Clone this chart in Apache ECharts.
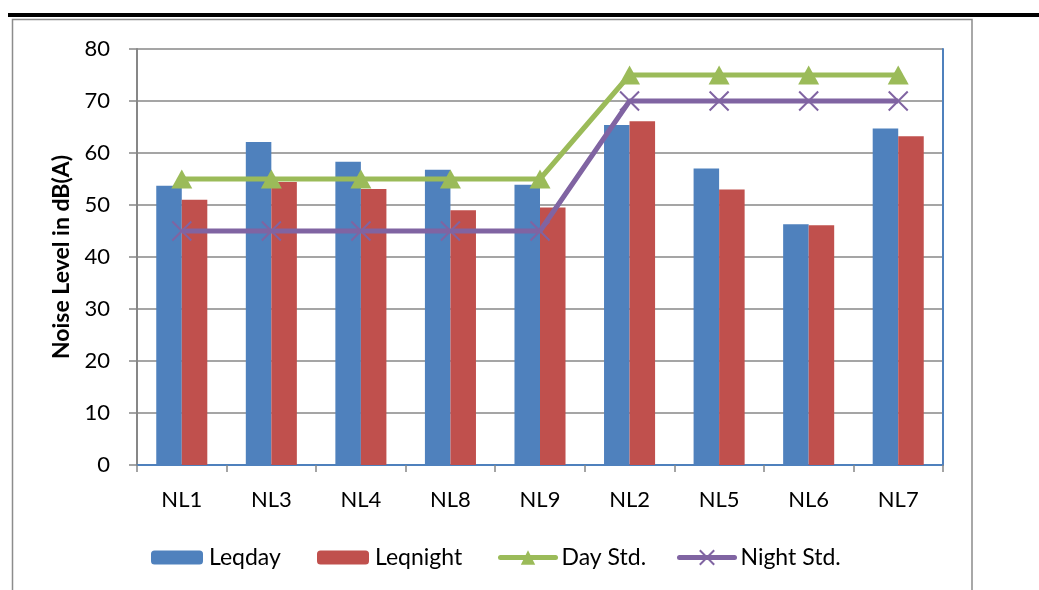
<!DOCTYPE html>
<html>
<head>
<meta charset="utf-8">
<script src="https://cdn.jsdelivr.net/npm/echarts@6/dist/echarts.min.js"></script>
<style>
html,body{margin:0;padding:0;background:#fff;}
#chart{width:1039px;height:590px;}
</style>
</head>
<body>
<div id="chart"></div>
<script>
const categories = ['NL1','NL3','NL4','NL8','NL9','NL2','NL5','NL6','NL7'];
const leqDay   = [53.7, 62.1, 58.3, 56.8, 53.9, 65.4, 57.0, 46.3, 64.7];
const leqNight = [51.0, 54.4, 53.1, 49.0, 49.5, 66.1, 53.0, 46.1, 63.2];
const dayStd   = [55, 55, 55, 55, 55, 75, 75, 75, 75];
const nightStd = [45, 45, 45, 45, 45, 70, 70, 70, 70];
const yTicks = [0, 10, 20, 30, 40, 50, 60, 70, 80];

const FONT = 'Lato';
const GRAY = '#878787';
const chart = echarts.init(document.getElementById('chart'), null, {renderer: 'canvas'});
const crossPath = 'path://M0,0L20,20M20,0L0,20';

function legendAt(left, name, w, h) {
  return {
    left: left, top: 546, padding: 0, itemWidth: w, itemHeight: h, itemGap: 0,
    data: [{name: name, lineStyle: {width: 5, cap: 'round'}}],
    textStyle: {fontFamily: FONT, fontSize: 23, color: '#000', padding: [0,0,0,1]},
    lineStyle: {width: 5, cap: 'round'},
    selectedMode: false
  };
}

chart.setOption({
  animation: false,
  backgroundColor: '#fff',
  graphic: [
    {type: 'rect', shape: {x: 8, y: 13, width: 1031, height: 4}, style: {fill: '#000'}, z: 100},
    {type: 'rect', shape: {x: 12.5, y: 19.5, width: 959.5, height: 620}, style: {fill: 'none', stroke: '#8c8c8c', lineWidth: 1.5}, z: 0}
  ],
  grid: {left: 137, top: 49, right: 96, bottom: 125, containLabel: false},
  legend: [
    legendAt(151, 'Leqday', 52, 14),
    legendAt(317, 'Leqnight', 52, 14),
    legendAt(498, 'Day Std.', 55, 18),
    legendAt(677, 'Night Std.', 55, 18)
  ],
  xAxis: [
    {
      type: 'category', data: categories, boundaryGap: true,
      axisLine: {show: true, lineStyle: {color: GRAY, width: 2}},
      axisTick: {show: true, length: 7, lineStyle: {color: GRAY, width: 1.5}},
      axisLabel: {fontFamily: FONT, fontSize: 22, color: '#000', margin: 24},
      splitLine: {show: false}
    },
    {
      type: 'category', data: categories, position: 'top',
      axisLine: {show: true, lineStyle: {color: '#4f81bd', width: 2}},
      axisTick: {show: false}, axisLabel: {show: false}, splitLine: {show: false}
    }
  ],
  yAxis: [
    {
      type: 'value', min: 0, max: 80, interval: 10,
      name: 'Noise Level in dB(A)', nameLocation: 'middle', nameGap: 64,
      nameTextStyle: {fontFamily: FONT, fontSize: 23, fontWeight: 'bold', color: '#000'},
      axisLine: {show: true, lineStyle: {color: GRAY, width: 2}},
      axisTick: {show: true, length: 8, lineStyle: {color: GRAY, width: 1.5}},
      axisLabel: {fontFamily: FONT, fontSize: 22, color: '#000', margin: 27,
        formatter: v => yTicks.includes(v) ? String(v) : ''},
      splitLine: {show: true, lineStyle: {color: GRAY, width: 1.5}}
    },
    {
      type: 'value', min: 0, max: 80, interval: 10, position: 'right',
      axisLine: {show: true, lineStyle: {color: '#4f81bd', width: 2}},
      axisTick: {show: false}, axisLabel: {show: false}, splitLine: {show: false}
    }
  ],
  series: [
    {
      name: 'Leqday', type: 'bar', data: leqDay,
      barGap: '0%', barCategoryGap: '43%',
      itemStyle: {color: '#4f81bd'}
    },
    {
      name: 'Leqnight', type: 'bar', data: leqNight,
      itemStyle: {color: '#c0504d'}
    },
    {
      name: 'Day Std.', type: 'line', data: dayStd,
      symbol: 'triangle', symbolSize: [21, 19], showAllSymbol: true,
      lineStyle: {color: '#9bbb59', width: 5},
      itemStyle: {color: '#9bbb59'},
      z: 5
    },
    {
      name: 'Night Std.', type: 'line', data: nightStd,
      symbol: crossPath, symbolSize: [19, 19], showAllSymbol: true,
      lineStyle: {color: '#8064a2', width: 5},
      itemStyle: {color: '#8064a2', borderColor: '#8064a2', borderWidth: 2},
      z: 4
    }
  ]
});
</script>
</body>
</html>
